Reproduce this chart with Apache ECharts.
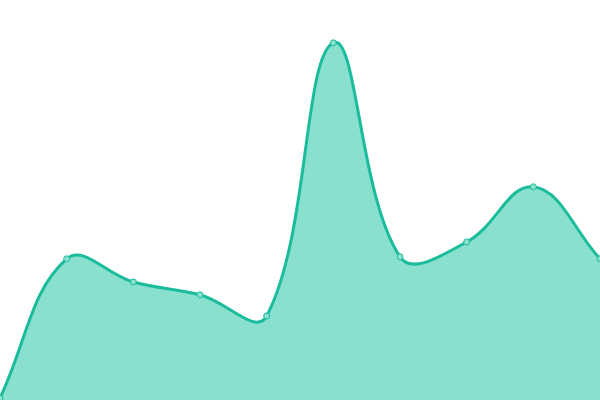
<!DOCTYPE html>
<html>
<head>
<meta charset="utf-8">
<script src="https://cdn.jsdelivr.net/npm/echarts@6/dist/echarts.min.js"></script>
<style>
  html, body { margin: 0; padding: 0; background: #fff; }
  #chart { width: 600px; height: 400px; }
</style>
</head>
<body>
<div id="chart"></div>
<script>
// values (scale 0-100, no visible axes)
var categories = ['1', '2', '3', '4', '5', '6', '7', '8', '9', '10'];
var values = [0.5, 35.3, 29.5, 26.3, 21, 89.3, 35.8, 39.5, 53.3, 35.3];

var LINE = '#1abc9c';
var FILL = '#8ae0cf';
var TENSION = 0.4;

// cardinal-style spline control points, worked out in pixel space
function controlPoints(pts) {
  var cps = [];
  for (var i = 0; i < pts.length; i++) {
    var prev = pts[i - 1] || pts[i];
    var cur = pts[i];
    var next = pts[i + 1] || pts[i];
    var d01 = Math.hypot(cur[0] - prev[0], cur[1] - prev[1]);
    var d12 = Math.hypot(next[0] - cur[0], next[1] - cur[1]);
    var s01 = d01 / (d01 + d12) || 0;
    var s12 = d12 / (d01 + d12) || 0;
    var fa = TENSION * s01, fb = TENSION * s12;
    cps.push({
      before: [cur[0] - fa * (next[0] - prev[0]), cur[1] - fa * (next[1] - prev[1])],
      after: [cur[0] + fb * (next[0] - prev[0]), cur[1] + fb * (next[1] - prev[1])]
    });
  }
  return cps;
}

function renderCurve(params, api) {
  if (params.dataIndex !== 0) return null;
  var pts = values.map(function (v, i) { return api.coord([i, v]); });
  var cps = controlPoints(pts);
  var d = 'M' + pts[0][0] + ' ' + pts[0][1];
  for (var i = 1; i < pts.length; i++) {
    var a = cps[i - 1].after, b = cps[i].before;
    d += ' C' + a[0] + ' ' + a[1] + ' ' + b[0] + ' ' + b[1] + ' ' + pts[i][0] + ' ' + pts[i][1];
  }
  var base = api.coord([0, 0])[1];
  var area = d + ' L' + pts[pts.length - 1][0] + ' ' + base + ' L' + pts[0][0] + ' ' + base + ' Z';
  var children = [
    { type: 'path', shape: { pathData: area }, style: { fill: FILL, stroke: null } },
    { type: 'path', shape: { pathData: d }, style: { fill: null, stroke: LINE, lineWidth: 3 } }
  ];
  pts.forEach(function (p) {
    children.push({
      type: 'circle',
      shape: { cx: p[0], cy: p[1], r: 3 },
      style: { fill: FILL, stroke: LINE, lineWidth: 1 }
    });
  });
  return { type: 'group', children: children };
}

var myChart = echarts.init(document.getElementById('chart'));
myChart.setOption({
  animation: false,
  grid: { left: 0, right: 0, top: 0, bottom: 0 },
  xAxis: {
    type: 'category',
    boundaryGap: false,
    data: categories,
    show: false
  },
  yAxis: {
    type: 'value',
    min: 0,
    max: 100,
    show: false
  },
  series: [
    {
      type: 'custom',
      clip: false,
      data: values.map(function (v, i) { return [i, v]; }),
      renderItem: renderCurve
    }
  ]
});
</script>
</body>
</html>
